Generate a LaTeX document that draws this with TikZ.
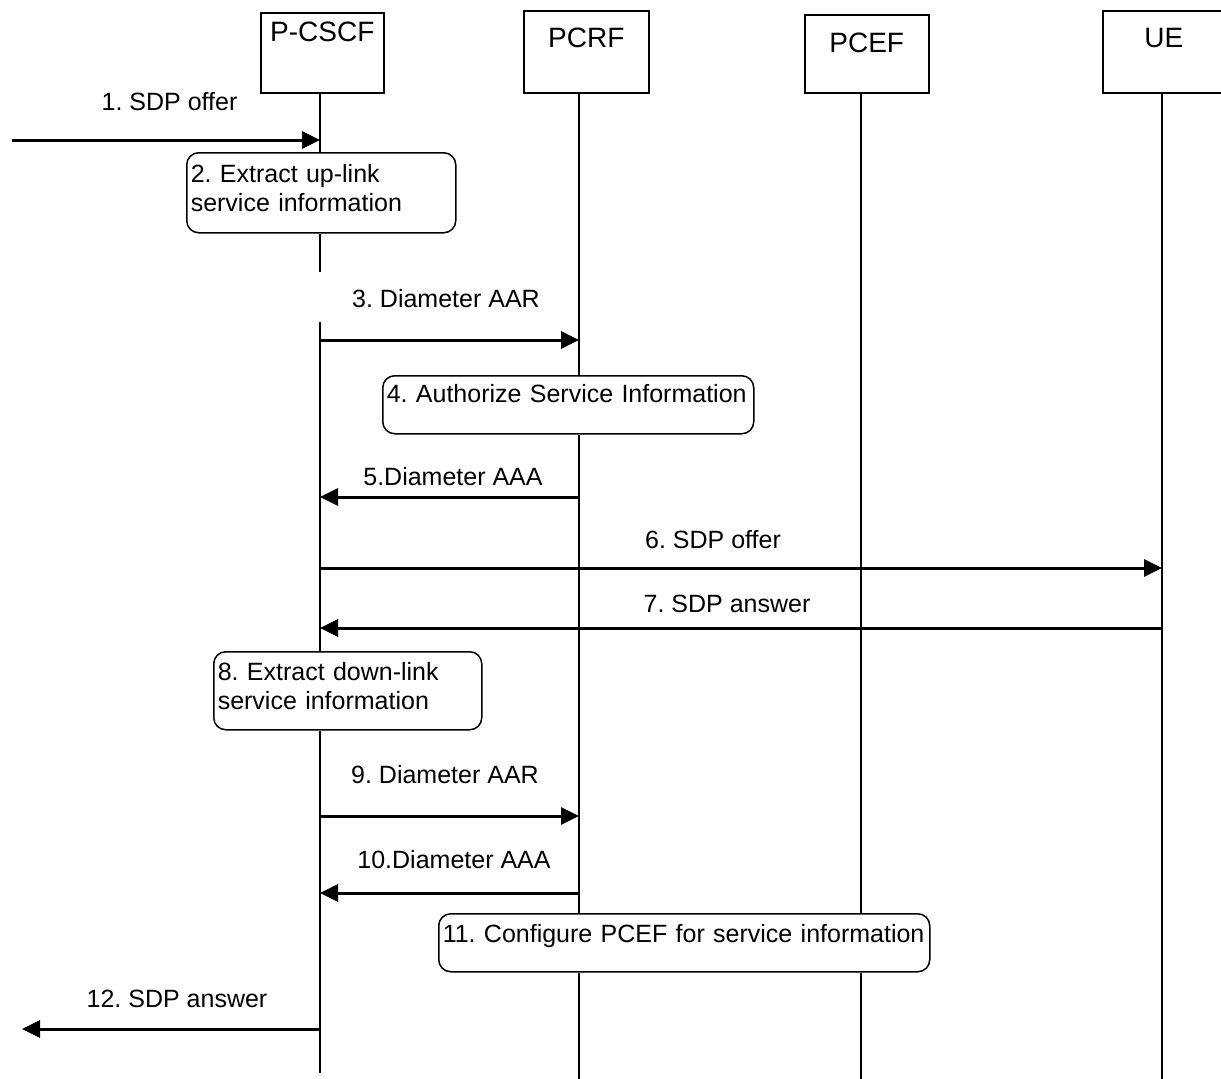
\documentclass[tikz,border=0pt]{standalone}
\usepackage{fontspec}
\setmainfont{Liberation Sans}
\usetikzlibrary{arrows.meta}

\begin{document}
\begin{tikzpicture}[x=1pt,y=-1pt,font=\fontsize{25}{28.5}\selectfont\frenchspacing,
    head/.style n args={3}{draw,line width=1.5pt,inner sep=0pt,anchor=north west,
      minimum width=#1,text height=#2,text depth=#3,font=\fontsize{28}{30}\selectfont},
    stepbox/.style n args={3}{draw,fill=white,line width=1.5pt,rounded corners=12pt,
      anchor=north west,inner xsep=4pt,inner ysep=0pt,align=left,
      text width=#1,text height=#2,text depth=#3},
    life/.style={line width=1.6pt},
    msg/.style={line width=3pt,-{Triangle[length=18pt,width=17pt]}},
    lbl/.style={anchor=base,inner sep=0pt}]
  \useasboundingbox (0,0) rectangle (1221,1079);

  \node[head={123pt}{29pt}{51pt}] (pcscf) at (260,12) {P-CSCF};
  \node[head={125pt}{37pt}{45pt}] (pcrf) at (523,10) {PCRF};
  \node[head={124pt}{38pt}{40pt}] (pcef) at (804,14) {PCEF};
  \node[head={122pt}{37pt}{45pt}] (ue) at (1102,10) {UE};

  \coordinate (lA) at (320,92);
  \coordinate (lB) at (579,92);
  \coordinate (lC) at (861,92);
  \coordinate (lD) at (1162,92);
  \coordinate (gA1) at (320,272);
  \coordinate (gA2) at (320,322);
  \coordinate (eA) at (320,1073);
  \foreach \l in {B,C,D} \coordinate (e\l) at (l\l |- 0,1079);
  \foreach \i/\y in {1/140,3/340,5/497,6/568,7/628,9/816,10/893,12/1029}
    \coordinate (y\i) at (0,\y);
  \coordinate (in1) at (12,140);
  \coordinate (out12) at (22,1029);

  \node[stepbox={261pt}{30pt}{50pt}] (s2) at (186,152) {2. Extract up-link\\service information};
  \node[stepbox={363pt}{27pt}{31pt}] (s4) at (382,375) {\mbox{4. Authorize Service Information}};
  \node[stepbox={260pt}{29pt}{49pt}] (s8) at (213,651) {8. Extract down-link\\service information};
  \node[stepbox={483pt}{29pt}{29pt}] (s11) at (438,913) {\mbox{11. Configure PCEF for service information}};

  \draw[life] (lA) -- (lA |- s2.north) (lA |- s2.south) -- (gA1)
    (gA2) -- (lA |- s8.north) (lA |- s8.south) -- (eA);
  \draw[life] (lB) -- (lB |- s4.north) (lB |- s4.south) -- (lB |- s11.north)
    (lB |- s11.south) -- (eB);
  \draw[life] (lC) -- (lC |- s11.north) (lC |- s11.south) -- (eC);
  \draw[life] (lD) -- (eD);

  \draw[msg] (in1) -- (lA |- y1);
  \draw[msg] (lA |- y3) -- (lB |- y3);
  \draw[msg] (lB |- y5) -- (lA |- y5);
  \draw[msg] (lA |- y6) -- (lD |- y6);
  \draw[msg] (lD |- y7) -- (lA |- y7);
  \draw[msg] (lA |- y9) -- (lB |- y9);
  \draw[msg] (lB |- y10) -- (lA |- y10);
  \draw[msg] (lA |- y12) -- (out12);

  \node[lbl] (t1) at (169.5,110) {1. SDP offer};
  \node[lbl] (t3) at (446,307) {3. Diameter AAR};
  \node[lbl] (t5) at (453,485) {5.Diameter AAA};
  \node[lbl] (t6) at (713,548) {6. SDP offer};
  \node[lbl] (t7) at (727,612) {7. SDP answer};
  \node[lbl] (t9) at (445,783) {9. Diameter AAR};
  \node[lbl] (t10) at (454,868) {10.Diameter AAA};
  \node[lbl] (t12) at (177,1007) {12. SDP answer};
\end{tikzpicture}
\end{document}
